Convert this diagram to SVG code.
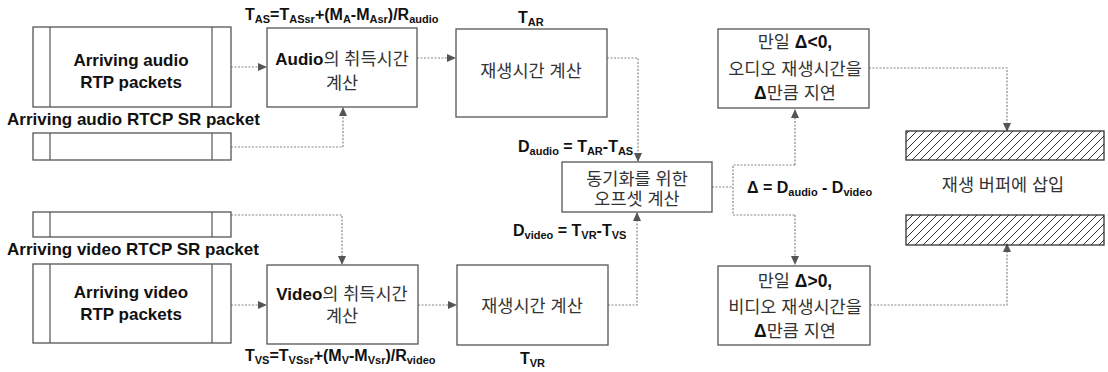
<svg xmlns="http://www.w3.org/2000/svg" width="1108" height="372" viewBox="0 0 1108 372">
<style>
text{font-family:"Liberation Sans","Noto Sans CJK KR",sans-serif;fill:#111}
.b{font-weight:bold}
.en{font-size:17px;font-weight:bold;text-anchor:middle}
.ko{font-size:17.5px;fill:#333;text-anchor:middle}
.f{font-size:16px;font-weight:bold}
.s{font-size:11px}
.box{fill:#fff;stroke:#555;stroke-width:1.3}
.in{stroke:#555;stroke-width:1.2}
.c{fill:none;stroke:#888;stroke-width:1.2;stroke-dasharray:2 1.5}
</style>
<defs>
<marker id="ar" markerWidth="9" markerHeight="8" refX="8" refY="4" orient="auto" markerUnits="userSpaceOnUse">
<path d="M0,0 L9,4 L0,8 z" fill="#555"/>
</marker>
<pattern id="hatch" width="8" height="8" patternUnits="userSpaceOnUse">
<path d="M-1,1 L1,-1 M0,8 L8,0 M7,9 L9,7" stroke="#333" stroke-width="1"/>
</pattern>
</defs>
<rect width="1108" height="372" fill="#fff"/>

<g id="connectors">
<path class="c" d="M231,67 H266" marker-end="url(#ar)"/>
<path class="c" d="M231,147 H343 V108" marker-end="url(#ar)"/>
<path class="c" d="M417,58 H455" marker-end="url(#ar)"/>
<path class="c" d="M607,58 H638 V161" marker-end="url(#ar)"/>
<path class="c" d="M608,305 H637 V213" marker-end="url(#ar)"/>
<path class="c" d="M418,305 H456" marker-end="url(#ar)"/>
<path class="c" d="M231,305 H266" marker-end="url(#ar)"/>
<path class="c" d="M231,215 H342 V264" marker-end="url(#ar)"/>
<path class="c" d="M712,187 H733"/>
<path class="c" d="M795,165 H733 V215 H795"/>
<path class="c" d="M795,165 V110" marker-end="url(#ar)"/>
<path class="c" d="M795,215 V264" marker-end="url(#ar)"/>
<path class="c" d="M869,68 H1007 V131" marker-end="url(#ar)"/>
<path class="c" d="M870,305 H1007 V244" marker-end="url(#ar)"/>
</g>

<g id="audio-rtp">
<rect class="box" x="33" y="27" width="198" height="80"/>
<line class="in" x1="50" y1="27" x2="50" y2="107"/>
<line class="in" x1="212" y1="27" x2="212" y2="107"/>
<text class="en" x="131" y="66">Arriving audio</text>
<text class="en" x="131" y="88">RTP packets</text>
</g>

<g id="audio-rtcp">
<text class="b" x="7" y="125" font-size="17">Arriving audio RTCP SR packet</text>
<rect class="box" x="33" y="133" width="198" height="27"/>
<line class="in" x1="50" y1="133" x2="50" y2="160"/>
<line class="in" x1="212" y1="133" x2="212" y2="160"/>
</g>

<g id="audio-acq">
<text class="f" x="245" y="20">T<tspan class="s" dy="3">AS</tspan><tspan dy="-3">=T</tspan><tspan class="s" dy="3">ASsr</tspan><tspan dy="-3">+(M</tspan><tspan class="s" dy="3">A</tspan><tspan dy="-3">-M</tspan><tspan class="s" dy="3">Asr</tspan><tspan dy="-3">)/R</tspan><tspan class="s" dy="3">audio</tspan></text>
<rect class="box" x="267" y="28" width="150" height="79"/>
<text class="ko" x="342" y="65"><tspan class="b" fill="#111" font-size="17">Audio</tspan>의 취득시간</text>
<text class="ko" x="342" y="89">계산</text>
</g>

<g id="audio-play">
<text class="f" x="518" y="23">T<tspan class="s" dy="3">AR</tspan></text>
<rect class="box" x="456" y="29" width="151" height="88"/>
<text class="ko" x="531" y="77">재생시간 계산</text>
</g>

<g id="sync">
<text class="f" x="518" y="152">D<tspan class="s" dy="3">audio</tspan><tspan dy="-3"> = T</tspan><tspan class="s" dy="3">AR</tspan><tspan dy="-3">-T</tspan><tspan class="s" dy="3">AS</tspan></text>
<rect class="box" x="562" y="162" width="150" height="50"/>
<text class="ko" x="637" y="185">동기화를 위한</text>
<text class="ko" x="637" y="205">오프셋 계산</text>
<text class="f" x="513" y="236">D<tspan class="s" dy="3">video</tspan><tspan dy="-3"> = T</tspan><tspan class="s" dy="3">VR</tspan><tspan dy="-3">-T</tspan><tspan class="s" dy="3">VS</tspan></text>
</g>

<g id="delta">
<text class="f" x="747" y="193">Δ = D<tspan class="s" dy="3">audio</tspan><tspan dy="-3"> - D</tspan><tspan class="s" dy="3">video</tspan></text>
</g>

<g id="video-rtcp">
<rect class="box" x="33" y="212" width="198" height="25"/>
<line class="in" x1="50" y1="212" x2="50" y2="237"/>
<line class="in" x1="212" y1="212" x2="212" y2="237"/>
<text class="b" x="7" y="255" font-size="17">Arriving video RTCP SR packet</text>
</g>

<g id="video-rtp">
<rect class="box" x="33" y="264" width="198" height="79"/>
<line class="in" x1="50" y1="264" x2="50" y2="343"/>
<line class="in" x1="212" y1="264" x2="212" y2="343"/>
<text class="en" x="131" y="298">Arriving video</text>
<text class="en" x="131" y="320">RTP packets</text>
</g>

<g id="video-acq">
<rect class="box" x="267" y="265" width="151" height="79"/>
<text class="ko" x="342" y="300"><tspan class="b" fill="#111" font-size="17">Video</tspan>의 취득시간</text>
<text class="ko" x="342" y="322">계산</text>
<text class="f" x="245" y="361">T<tspan class="s" dy="3">VS</tspan><tspan dy="-3">=T</tspan><tspan class="s" dy="3">VSsr</tspan><tspan dy="-3">+(M</tspan><tspan class="s" dy="3">V</tspan><tspan dy="-3">-M</tspan><tspan class="s" dy="3">Vsr</tspan><tspan dy="-3">)/R</tspan><tspan class="s" dy="3">video</tspan></text>
</g>

<g id="video-play">
<rect class="box" x="457" y="265" width="151" height="80"/>
<text class="ko" x="532" y="312">재생시간 계산</text>
<text class="f" x="520" y="364">T<tspan class="s" dy="3">VR</tspan></text>
</g>

<g id="audio-delay">
<rect class="box" x="718" y="29" width="151" height="79"/>
<text class="ko" x="795" y="48">만일 <tspan class="b" fill="#111">Δ&lt;0,</tspan></text>
<text class="ko" x="795" y="75">오디오 재생시간을</text>
<text class="ko" x="795" y="99"><tspan class="b" fill="#111">Δ</tspan>만큼 지연</text>
</g>

<g id="video-delay">
<rect class="box" x="718" y="266" width="152" height="79"/>
<text class="ko" x="795" y="287">만일 <tspan class="b" fill="#111">Δ&gt;0,</tspan></text>
<text class="ko" x="795" y="313">비디오 재생시간을</text>
<text class="ko" x="795" y="337"><tspan class="b" fill="#111">Δ</tspan>만큼 지연</text>
</g>

<g id="buffer">
<rect x="906" y="131" width="198" height="29" fill="url(#hatch)" stroke="#333" stroke-width="1.3"/>
<text class="ko" x="1003" y="191">재생 버퍼에 삽입</text>
<rect x="906" y="215" width="198" height="30" fill="url(#hatch)" stroke="#333" stroke-width="1.3"/>
</g>
</svg>
